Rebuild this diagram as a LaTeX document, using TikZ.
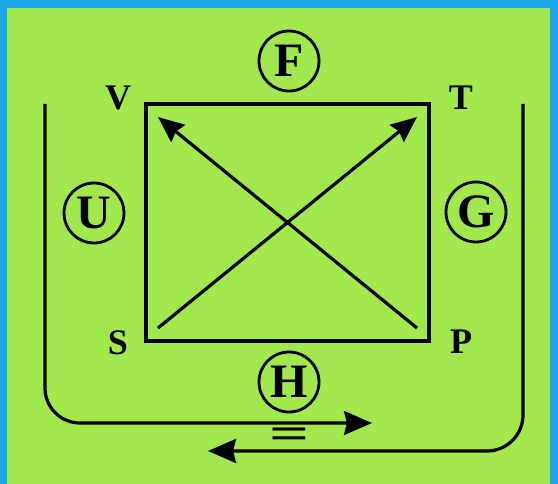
\documentclass[tikz,border=0pt]{standalone}
\usepackage{fontspec}
\setmainfont{Liberation Serif}
\usepackage{tikz}
\usetikzlibrary{arrows.meta,positioning,backgrounds}
\definecolor{lime}{HTML}{A0E84C}
\definecolor{sky}{HTML}{1CA8E8}
\tikzset{
  cornerlabel/.style={
    font=\fontsize{36}{36}\selectfont\bfseries, inner sep=0pt
  },
  ringnode/.style={
    circle, draw=black, line width=2.8pt, minimum size=60pt,
    font=\fontsize{48}{48}\selectfont\bfseries, inner sep=0pt
  },
  flowarrow/.style={
    -{Stealth[length=28pt, width=24pt, inset=3pt]}, line width=3.2pt
  },
  crossarrow/.style={
    -{Stealth[length=26pt, width=22pt, inset=3pt]}, line width=3.2pt
  },
}
\begin{document}
\begin{tikzpicture}[x=1pt, y=-1pt]
  % frame
  \useasboundingbox (0,0) rectangle (558,484);
  \fill[sky] (0,0) rectangle (558,484);
  \fill[lime] (7,8) rectangle (550,484);

  % square and its corners
  \draw[line width=4.4pt] (146,104) rectangle (429,341);
  \coordinate (s) at (158,328);
  \coordinate (t) at (417,117);
  \coordinate (p) at (417,328);
  \coordinate (v) at (158,117);
  \draw[crossarrow] (s) -- (t);
  \draw[crossarrow] (p) -- (v);

  \node[cornerlabel] (lv) at (118,98) {V};
  \node[cornerlabel] (lt) at (461,98) {T};
  \node[cornerlabel] (ls) at (118,343) {S};
  \node[cornerlabel] (lp) at (461,342) {P};

  % ringed letters
  \node[ringnode] (f) at (289,61) {F};
  \node[ringnode] (u) at (94,213) {U};
  \node[ringnode] (g) at (476,212) {G};
  \node[ringnode] (h) at (289,382) {H};

  % outer loop
  \coordinate (la) at (45,104);
  \coordinate (lb) at (372,423);
  \coordinate (ra) at (523,104);
  \coordinate (rb) at (208,451);
  \draw[flowarrow, rounded corners=35pt] (la) |- (lb);
  \draw[flowarrow, rounded corners=36pt] (ra) |- (rb);
  \node[font=\fontsize{44}{44}\selectfont\bfseries, inner sep=0pt] (eq) at (290,438) {\scalebox{1.6}[1]{=}};
\end{tikzpicture}
\end{document}
